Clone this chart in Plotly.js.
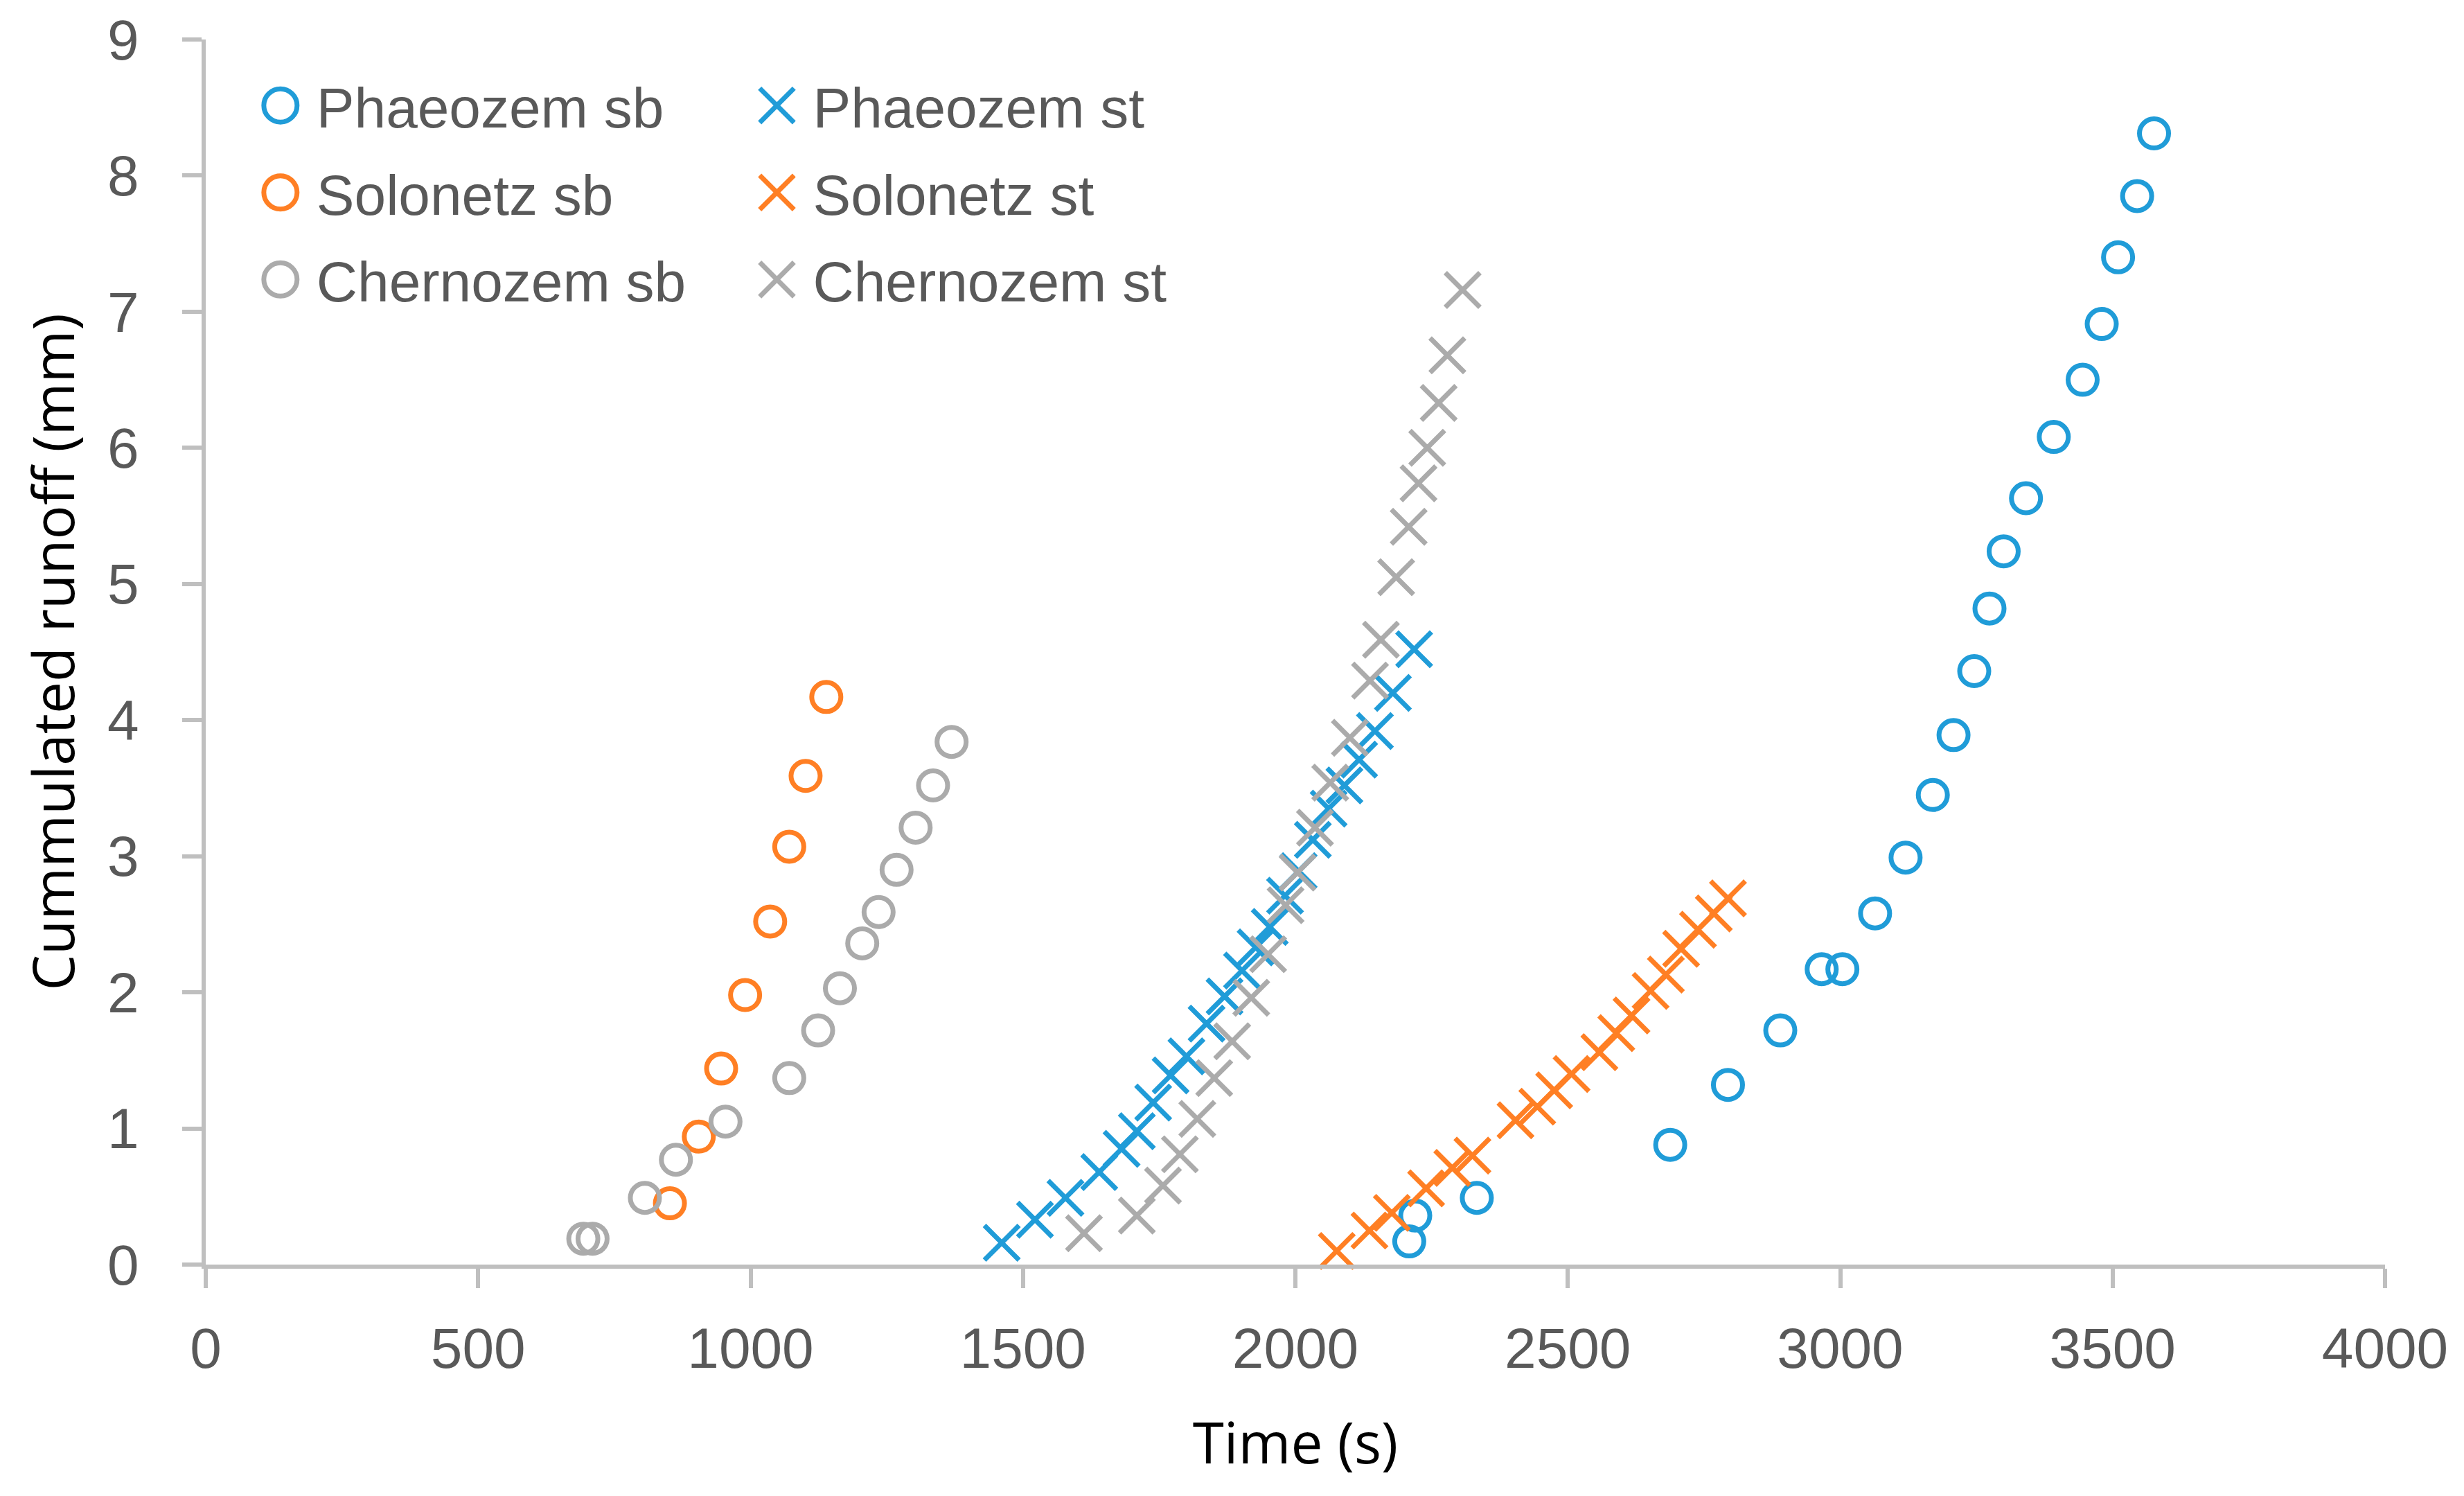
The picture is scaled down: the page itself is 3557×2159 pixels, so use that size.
<!DOCTYPE html>
<html>
<head>
<meta charset="utf-8">
<script src="https://cdn.plot.ly/plotly-3.0.1.min.js"></script>
<style>
  html, body { margin: 0; padding: 0; background: #fff; }
  #chart { width: 3557px; height: 2159px; }
</style>
</head>
<body>
<div id="chart"></div>
<script>
// values: time (s) and cumulated runoff (mm)
const phaeozemSbT = [2209, 2220, 2333, 2688, 2794, 2890, 2966, 3004, 3064, 3120, 3170, 3208, 3246, 3274, 3300, 3341, 3392, 3445, 3480, 3510, 3545, 3576]
const phaeozemSbR = [0.17, 0.36, 0.49, 0.88, 1.32, 1.72, 2.17, 2.17, 2.58, 2.99, 3.45, 3.89, 4.36, 4.82, 5.24, 5.63, 6.08, 6.50, 6.91, 7.40, 7.85, 8.31]

const solonetzSbT = [852, 905, 946, 990, 1036, 1071, 1101, 1139]
const solonetzSbR = [0.45, 0.94, 1.44, 1.98, 2.52, 3.07, 3.59, 4.17]

const chernozemSbT = [693, 710, 806, 863, 954, 1071, 1124, 1164, 1205, 1235, 1268, 1303, 1335, 1369]
const chernozemSbR = [0.19, 0.19, 0.49, 0.77, 1.05, 1.37, 1.72, 2.03, 2.36, 2.59, 2.90, 3.21, 3.52, 3.84]

const phaeozemStT = [1461, 1522, 1578, 1640, 1681, 1709, 1739, 1771, 1800, 1837, 1870, 1902, 1927, 1953, 1981, 2006, 2032, 2061, 2090, 2117, 2146, 2179, 2218]
const phaeozemStR = [0.16, 0.33, 0.49, 0.68, 0.85, 0.98, 1.19, 1.39, 1.53, 1.77, 1.97, 2.16, 2.33, 2.48, 2.71, 2.89, 3.12, 3.35, 3.52, 3.71, 3.92, 4.20, 4.52]

const solonetzStT = [2076, 2136, 2177, 2240, 2288, 2325, 2404, 2444, 2475, 2507, 2558, 2589, 2617, 2652, 2680, 2708, 2739, 2768, 2794]
const solonetzStR = [0.10, 0.25, 0.38, 0.56, 0.71, 0.80, 1.06, 1.16, 1.28, 1.40, 1.56, 1.70, 1.83, 2.01, 2.13, 2.32, 2.46, 2.58, 2.69]

const chernozemStT = [1612, 1709, 1757, 1788, 1820, 1851, 1884, 1919, 1950, 1982, 2004, 2036, 2064, 2100, 2137, 2157, 2185, 2208, 2226, 2242, 2263, 2279, 2307]
const chernozemStR = [0.23, 0.36, 0.58, 0.81, 1.07, 1.37, 1.64, 1.96, 2.28, 2.64, 2.88, 3.21, 3.54, 3.87, 4.29, 4.59, 5.05, 5.42, 5.74, 6.00, 6.33, 6.68, 7.16]

const xTicks = [0, 500, 1000, 1500, 2000, 2500, 3000, 3500, 4000]
const yTicks = [0, 1, 2, 3, 4, 5, 6, 7, 8, 9]

const blue = '#209cd8'
const orange = '#ff7f24'
const grey = '#ababab'
const textGrey = '#595959'
const axisGrey = '#bfbfbf'

const sb = (name, x, y, color) => ({
    type: 'scatter', mode: 'markers', name: name, x: x, y: y,
    legend: 'legend', legendgroup: name, cliponaxis: false,
    marker: { symbol: 'circle-open', size: 42, color: color, line: { width: 7, color: color } }
})
const st = (name, x, y, color) => ({
    type: 'scatter', mode: 'markers', name: name, x: x, y: y,
    legend: 'legend2', legendgroup: name, cliponaxis: false,
    marker: { symbol: 'x-thin', size: 50, color: color, line: { width: 7, color: color } }
})

let data = [
    sb('Phaeozem sb', phaeozemSbT, phaeozemSbR, blue),
    sb('Solonetz sb', solonetzSbT, solonetzSbR, orange),
    sb('Chernozem sb', chernozemSbT, chernozemSbR, grey),
    st('Phaeozem st', phaeozemStT, phaeozemStR, blue),
    st('Solonetz st', solonetzStT, solonetzStR, orange),
    st('Chernozem st', chernozemStT, chernozemStR, grey)
]

const legendFont = { family: 'Liberation Sans, Arial, sans-serif', size: 82, color: textGrey }
const legendBase = {
    yanchor: 'top', xanchor: 'left', y: 0.98,
    font: legendFont, bgcolor: 'rgba(0,0,0,0)', borderwidth: 0,
    itemwidth: 80, tracegroupgap: 16, itemclick: false
}

let layout = {
    width: 3557, height: 2159,
    margin: { l: 297, r: 114, t: 57, b: 334 },
    paper_bgcolor: '#fff', plot_bgcolor: '#fff',
    showlegend: true,
    legend: Object.assign({}, legendBase, { x: 0.0222 }),
    legend2: Object.assign({}, legendBase, { x: 0.25 }),
    xaxis: {
        range: [0, 4000], tickvals: xTicks, ticktext: xTicks.map(String),
        showgrid: false, zeroline: false,
        showline: true, linecolor: axisGrey, linewidth: 6,
        ticks: 'outside', ticklen: 28, tickwidth: 6, tickcolor: axisGrey,
        ticklabelstandoff: 17,
        tickfont: { family: 'Liberation Sans, Arial, sans-serif', size: 82, color: textGrey },
        title: { text: 'Time (s)', standoff: 66, font: { family: 'Open Sans, sans-serif', size: 82, color: '#000' } }
    },
    yaxis: {
        range: [0, 9], tickvals: yTicks, ticktext: yTicks.map(String),
        showgrid: false, zeroline: false,
        showline: true, linecolor: axisGrey, linewidth: 6,
        ticks: 'outside', ticklen: 28, tickwidth: 6, tickcolor: axisGrey,
        ticklabelstandoff: 46,
        tickfont: { family: 'Liberation Sans, Arial, sans-serif', size: 82, color: textGrey },
        title: { text: 'Cummulated runoff (mm)', standoff: 22, font: { family: 'Open Sans, sans-serif', size: 82, color: '#000' } }
    }
}

Plotly.newPlot('chart', data, layout, { displayModeBar: false, staticPlot: true }).then(() => {
    // legend symbols are capped small by plotly, blow them up to the marker size of the chart
    document.querySelectorAll('g.legend .traces, g.legend2 .traces').forEach(tr => {
        const txt = tr.querySelector('text.legendtext')
        const tx = txt ? parseFloat(txt.getAttribute('x')) : 90
        tr.querySelectorAll('path.scatterpts').forEach(p => {
            const d = p.getAttribute('d') || ''
            const isX = d.indexOf('A') < 0
            const k = isX ? 3.1 : 3.0
            p.setAttribute('transform', 'translate(' + (tx - 52) + ',0) scale(' + k + ')')
            p.style.strokeWidth = (7 / k) + 'px'
        })
    })
})
</script>
</body>
</html>
